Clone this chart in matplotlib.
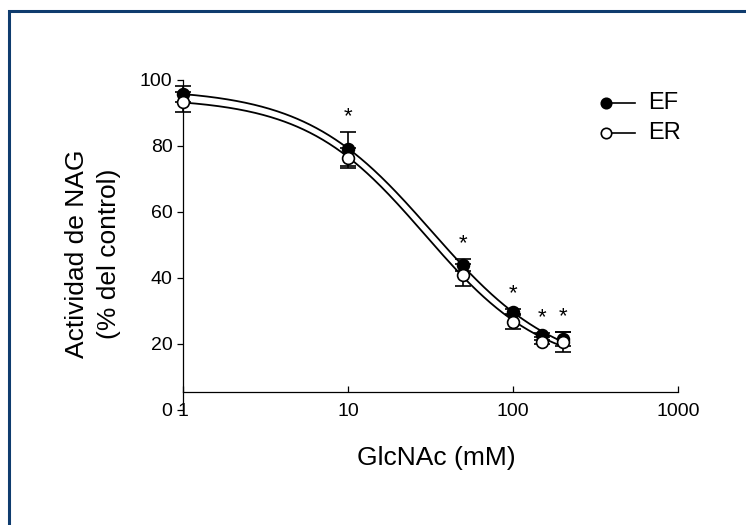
import numpy as np
import matplotlib as mpl
import matplotlib.pyplot as plt
from matplotlib.lines import Line2D
from matplotlib.patches import Rectangle

mpl.use('Agg')
plt.rcParams['font.family'] = ['Liberation Sans', 'DejaVu Sans']

# GlcNAc concentration (mM) and NAG activity (% of control), mean and error
conc = np.array([1, 10, 50, 100, 150, 200])
ef_mean = np.array([95.8, 79.1, 43.9, 29.7, 22.7, 21.5])
ef_err = np.array([2.5, 5.1, 1.8, 1.0, 0.6, 2.1])
er_mean = np.array([93.3, 76.4, 40.9, 26.7, 20.6, 20.6])
er_err = np.array([3.0, 3.1, 3.2, 2.3, 0.6, 3.0])
significant = [False, True, True, True, True, True]

x_ticks = [1, 10, 100, 1000]
x_tick_labels = ['1', '10', '100', '1000']
y_ticks = [0, 20, 40, 60, 80, 100]


def fit_logistic(x, y):
    """
    Four-parameter logistic fit by grid search over IC50 and Hill slope,
    solving bottom/top by least squares for each grid node.
    """
    log_c = np.linspace(0.3, 2.7, 481)
    hill = np.linspace(0.3, 4.0, 371)
    c_grid, h_grid = np.meshgrid(log_c, hill, indexing='ij')
    f = 1.0 / (1.0 + (x[None, None, :] / 10 ** c_grid[..., None]) ** h_grid[..., None])
    g = 1.0 - f
    a11 = (g * g).sum(-1)
    a12 = (g * f).sum(-1)
    a22 = (f * f).sum(-1)
    b1 = (g * y).sum(-1)
    b2 = (f * y).sum(-1)
    det = a11 * a22 - a12 ** 2
    with np.errstate(divide='ignore', invalid='ignore'):
        bottom = (b1 * a22 - b2 * a12) / det
        top = (a11 * b2 - a12 * b1) / det
        resid = ((bottom[..., None] * g + top[..., None] * f - y) ** 2).sum(-1)
    resid[~np.isfinite(resid)] = np.inf
    i = np.unravel_index(np.argmin(resid), resid.shape)
    return bottom[i], top[i], 10 ** c_grid[i], h_grid[i]


def logistic(x, bottom, top, c, h):
    return bottom + (top - bottom) / (1.0 + (x / c) ** h)


fig = plt.figure(figsize=(7.46, 5.25), dpi=100)
ax = fig.add_axes([183 / 746, 1 - 410 / 525, 495 / 746, 330 / 525])

xs = np.logspace(0, np.log10(conc.max()), 300)
for mean in (ef_mean, er_mean):
    params = fit_logistic(conc.astype(float), mean)
    ax.plot(xs, logistic(xs, *params), color='black', lw=1.3, zorder=2, clip_on=False)

ax.errorbar(conc, ef_mean, yerr=ef_err, fmt='none', ecolor='black', elinewidth=1.2,
            capsize=5.5, capthick=1.2, zorder=3, clip_on=False)
ax.errorbar(conc, er_mean, yerr=er_err, fmt='none', ecolor='black', elinewidth=1.2,
            capsize=5.5, capthick=1.2, zorder=3, clip_on=False)
ax.plot(conc, ef_mean, 'o', ms=8.5, mfc='black', mec='black', mew=1.2, zorder=4, clip_on=False)
ax.plot(conc, er_mean, 'o', ms=8.5, mfc='white', mec='black', mew=1.2, zorder=5, clip_on=False)

for x, m, e, sig in zip(conc, ef_mean, ef_err, significant):
    if sig:
        ax.annotate('*', (x, m + e), xytext=(0, 11), textcoords='offset points',
                    ha='center', va='center', fontsize=16)

# legend: marker at the left end of a short line
for label, y, face in [('EF', 0.930, 'black'), ('ER', 0.839, 'white')]:
    ax.add_line(Line2D([0.8545, 0.913], [y, y], transform=ax.transAxes, color='black', lw=1.2,
                       marker='o', markevery=[0], ms=7.5, mfc=face, mec='black', mew=1.2,
                       clip_on=False))
    ax.text(0.939, y, label, transform=ax.transAxes, ha='left', va='center', fontsize=17)

ax.set_xscale('log')
ax.set_xlim(1, 1000)
ax.set_ylim(0, 100)
ax.set_xticks(x_ticks)
ax.set_xticklabels(x_tick_labels)
ax.minorticks_off()
ax.set_yticks(y_ticks)
ax.set_yticklabels([str(t) for t in y_ticks])

for side in ('top', 'right'):
    ax.spines[side].set_visible(False)
ax.spines['left'].set_bounds(0, 100)
ax.spines['bottom'].set_position(('data', 5.5))
for side in ('left', 'bottom'):
    ax.spines[side].set_linewidth(0.9)

ax.tick_params(axis='y', direction='out', length=4, width=0.9, pad=3.5, labelsize=14)
ax.tick_params(axis='x', direction='in', length=4, width=0.9, pad=8, labelsize=14)

ax.set_xlabel('GlcNAc (mM)', fontsize=19)
ax.xaxis.set_label_coords(0.511, -0.108)
ax.set_ylabel('Actividad de NAG\n(% del control)', fontsize=19, va='center', linespacing=1.45)
ax.yaxis.set_label_coords(-0.182, 0.473)

fig.add_artist(Rectangle((9 / 746, -0.05), 1.2, 1 - 11 / 525 + 0.05, transform=fig.transFigure,
                         fill=False, edgecolor='#0f3c6e', linewidth=2.2))

fig.savefig('out.png', dpi=100)
